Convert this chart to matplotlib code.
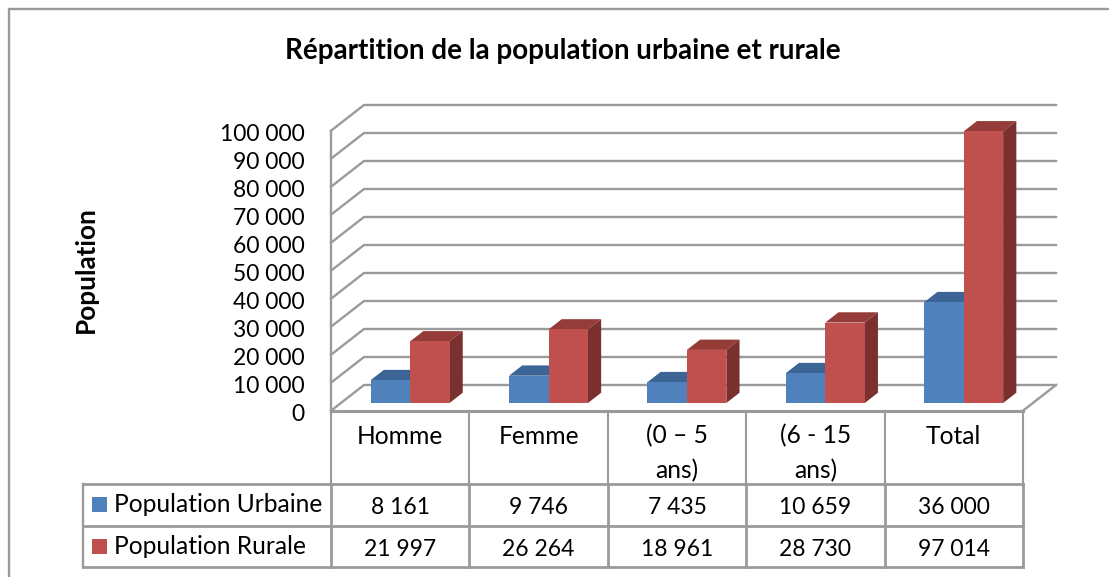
import matplotlib
matplotlib.use("Agg")
import matplotlib.pyplot as plt
from matplotlib.patches import Polygon, Rectangle

plt.rcParams['font.family'] = ['Lato', 'DejaVu Sans']

titre = "Répartition de la population urbaine et rurale"
categories = ["Homme", "Femme", "(0 – 5\nans)", "(6 - 15\nans)", "Total"]
urbaine = [8161, 9746, 7435, 10659, 36000]
rurale = [21997, 26264, 18961, 28730, 97014]
urbaine_txt = ["8 161", "9 746", "7 435", "10 659", "36 000"]
rurale_txt = ["21 997", "26 264", "18 961", "28 730", "97 014"]
yticks = list(range(0, 100001, 10000))
ylabels = ["0", "10 000", "20 000", "30 000", "40 000", "50 000", "60 000",
           "70 000", "80 000", "90 000", "100 000"]

W, H = 1109, 577
GRIS = "#9a9a9a"

fig = plt.figure(figsize=(W / 100, H / 100), dpi=100)

# overlay in pixels for the frame and table
bg = fig.add_axes([0, 0, 1, 1])
bg.set_xlim(0, W)
bg.set_ylim(H, 0)
bg.axis("off")

# plot axes = the front plane of the 3d box
x0, x1, ytop, ybot = 331, 1023, 130.7, 410.7
ax = fig.add_axes([x0 / W, 1 - ybot / H, (x1 - x0) / W, (ybot - ytop) / H])
ax.set_xlim(0, 5)
ax.set_ylim(0, 100000)
ax.axis("off")

# depth of the box, in data units
DX = 33 / 138.4
DY = 25.7 / 2.8 * 1000


def proj(x, v, d):
    return (x + d * DX, v + d * DY)


# walls
for v in yticks:
    ax.plot(*zip(proj(0, v, 0), proj(0, v, 1), proj(5, v, 1)), color=GRIS, lw=1.7,
            clip_on=False, solid_joinstyle="miter", zorder=1)
ax.plot(*zip(proj(0, 0, 0), proj(0, 100000, 0)), color=GRIS, lw=1.7, clip_on=False, zorder=1)
ax.plot(*zip(proj(5, 0, 1), proj(5, 0, 0)), color=GRIS, lw=1.7, clip_on=False, zorder=1)
ax.plot(*zip(proj(0, 0, 0), proj(5, 0, 0)), color=GRIS, lw=2.2, clip_on=False, zorder=6)

# bars
BW = 0.285
D0, D1 = 0.30, 0.70


def bar3d(left, val, front, top, side):
    right = left + BW
    ax.add_patch(Polygon([proj(left, 0, D0), proj(right, 0, D0), proj(right, val, D0), proj(left, val, D0)],
                         closed=True, fc=front, ec="none", clip_on=False, zorder=4))
    ax.add_patch(Polygon([proj(left, val, D0), proj(right, val, D0), proj(right, val, D1), proj(left, val, D1)],
                         closed=True, fc=top, ec="none", clip_on=False, zorder=3))
    ax.add_patch(Polygon([proj(right, 0, D0), proj(right, val, D0), proj(right, val, D1), proj(right, 0, D1)],
                         closed=True, fc=side, ec="none", clip_on=False, zorder=3))


for i in range(len(categories)):
    bar3d(i + 0.5 - BW, urbaine[i], "#4f81bd", "#3c6494", "#3a5f8c")
    bar3d(i + 0.5, rurale[i], "#c0504d", "#953c39", "#7a302e")

# y tick labels
for v, lab in zip(yticks, ylabels):
    ax.annotate(lab, (0, v), xytext=(305, -4), xycoords="data", textcoords=("figure pixels", "offset pixels"),
                ha="right", va="center", fontsize=16.5, color="black", clip_on=False)

# frame, no right or bottom edge in the crop
bg.plot([9, 9, W], [H, 9, 9], color=GRIS, lw=1.7, solid_joinstyle="miter")

# table
cols = [331 + 138.4 * i for i in range(6)]
r0, r1, r2, r3 = 411, 484, 526, 567
for c in cols:
    bg.plot([c, c], [r0, r1], color=GRIS, lw=1.5)
    bg.plot([c, c], [r1, r3], color=GRIS, lw=2.0)
bg.plot([83, 83], [r1, r3], color=GRIS, lw=1.7)
for r in (r1, r2, r3):
    bg.plot([83, x1], [r, r], color=GRIS, lw=2.0)

for i in range(5):
    xc = (cols[i] + cols[i + 1]) / 2
    bg.text(xc, 436, categories[i].split("\n")[0], ha="center", va="center", fontsize=17.7)
    if "\n" in categories[i]:
        bg.text(xc, 471, categories[i].split("\n")[1], ha="center", va="center", fontsize=17.7)
    bg.text(xc, 507, urbaine_txt[i], ha="center", va="center", fontsize=16.5)
    bg.text(xc, 549, rurale_txt[i], ha="center", va="center", fontsize=16.5)

bg.add_patch(Rectangle((92, 497), 15, 15, fc="#4f81bd", ec="none"))
bg.add_patch(Rectangle((92, 539), 15, 15, fc="#c0504d", ec="none"))
bg.text(114, 505, "Population Urbaine", ha="left", va="center", fontsize=17.7)
bg.text(114, 547, "Population Rurale", ha="left", va="center", fontsize=17.7)

bg.text(563, 51, titre, ha="center", va="center", fontsize=20, fontweight="bold")
bg.text(86, 270, "Population", rotation=90, ha="center", va="center", fontsize=18.8, fontweight="bold")

fig.savefig("out.png", dpi=100)
